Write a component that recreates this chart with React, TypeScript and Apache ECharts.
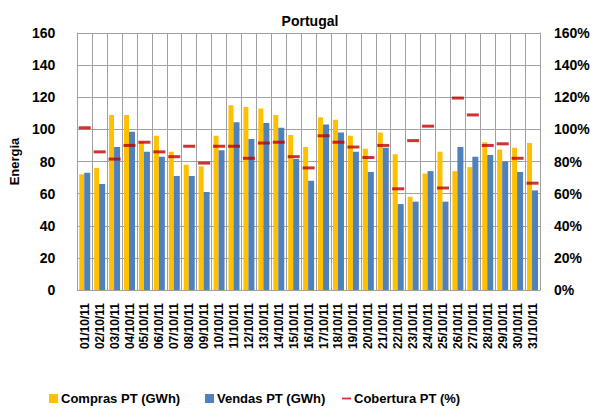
import { useEffect, useRef } from "react"
import * as echarts from "echarts"

const days = [
  "01/10/11", "02/10/11", "03/10/11", "04/10/11", "05/10/11", "06/10/11", "07/10/11", "08/10/11",
  "09/10/11", "10/10/11", "11/10/11", "12/10/11", "13/10/11", "14/10/11", "15/10/11", "16/10/11",
  "17/10/11", "18/10/11", "19/10/11", "20/10/11", "21/10/11", "22/10/11", "23/10/11", "24/10/11",
  "25/10/11", "26/10/11", "27/10/11", "28/10/11", "29/10/11", "30/10/11", "31/10/11",
]

// Compras PT (GWh)
const compras = [
  72, 76, 109, 109, 92, 96, 86, 78, 77, 96, 115, 114, 113, 109, 96.5, 89,
  107.5, 106, 96, 88, 98, 84.5, 58, 72.5, 86, 74, 76.5, 92, 87.5, 88.5, 91.5,
]

// Vendas PT (GWh)
const vendas = [
  73, 66, 89, 98.5, 86, 83, 71, 71, 61, 87, 104.5, 94, 104, 101, 81.5, 68,
  103, 98, 86, 73.5, 88.5, 53.5, 55, 74, 55, 89, 83, 84, 80, 73.5, 62,
]

// Cobertura PT (%)
const cobertura = [
  101, 86, 81.5, 90, 92, 86, 83, 89.5, 79, 89.5, 89.5, 82, 91.5, 92, 83, 76,
  96, 92, 89, 82.5, 90, 63, 93, 102, 63.5, 119.5, 109, 90, 91, 82, 66.5,
]

const leftTicks = [0, 20, 40, 60, 80, 100, 120, 140, 160]

const font = "'Liberation Sans', Arial, sans-serif"
const gridColor = "#a0a0a0"

const legendText = { fontFamily: font, fontSize: 13, fontWeight: "bold", color: "#000", padding: [0, 0, 0, -2] }

function legendAt(left: number, name: string, icon: string) {
  return {
    bottom: 3,
    padding: 0,
    left,
    itemWidth: 9,
    itemHeight: 9,
    textStyle: legendText,
    data: [{ name, icon }],
  }
}

export default function App() {
  const chartRef = useRef<HTMLDivElement>(null)

  useEffect(() => {
    document.body.style.margin = "0"
    if (!chartRef.current) return
    const chart = echarts.init(chartRef.current, null, { renderer: "svg" })

    chart.setOption({
      animation: false,
      backgroundColor: "#ffffff",
      textStyle: { fontFamily: font },
      title: {
        text: "Portugal",
        left: 305,
        textAlign: "center",
        top: 9,
        textStyle: { fontFamily: font, fontSize: 14, fontWeight: "bold", color: "#000" },
      },
      grid: { left: 67, right: 64, top: 33, bottom: 118 },
      legend: [
        legendAt(49, "Compras PT (GWh)", "rect"),
        legendAt(205, "Vendas PT (GWh)", "rect"),
        legendAt(342, "Cobertura PT (%)", "path://M0,4 L10,4 L10,6 L0,6 Z"),
      ],
      xAxis: {
        type: "category",
        data: days,
        axisLine: { lineStyle: { color: gridColor } },
        axisTick: { show: false },
        splitLine: { show: true, interval: 0, lineStyle: { color: gridColor, width: 1 } },
        axisLabel: {
          interval: 0,
          rotate: 90,
          margin: 13,
          fontFamily: font,
          fontSize: 12,
          fontWeight: "bold",
          color: "#000",
        },
      },
      yAxis: [
        {
          type: "value",
          min: leftTicks[0],
          max: leftTicks[leftTicks.length - 1],
          interval: 20,
          name: "Energia",
          nameLocation: "middle",
          nameRotate: 90,
          nameGap: 41,
          nameTextStyle: { fontFamily: font, fontSize: 13, fontWeight: "bold", color: "#000" },
          axisLine: { show: true, lineStyle: { color: gridColor } },
          splitLine: { lineStyle: { color: gridColor, width: 1 } },
          axisLabel: { fontFamily: font, fontSize: 14, fontWeight: "bold", color: "#000", margin: 22 },
        },
        {
          type: "value",
          min: 0,
          max: 160,
          interval: 20,
          axisLine: { show: true, lineStyle: { color: gridColor } },
          splitLine: { show: false },
          axisLabel: {
            formatter: "{value}%",
            fontFamily: font,
            fontSize: 14,
            fontWeight: "bold",
            color: "#000",
            margin: 14,
          },
        },
      ],
      series: [
        {
          name: "Compras PT (GWh)",
          type: "bar",
          data: compras,
          barWidth: 5,
          barGap: "0%",
          itemStyle: { color: "#FFC000" },
        },
        {
          name: "Vendas PT (GWh)",
          type: "bar",
          data: vendas,
          barWidth: 6,
          itemStyle: { color: "#4F81BD" },
        },
        {
          name: "Cobertura PT (%)",
          type: "scatter",
          yAxisIndex: 1,
          data: cobertura,
          symbol: "rect",
          symbolSize: [12, 3],
          itemStyle: { color: "#C00000" },
          z: 5,
        },
      ],
    })

    return () => {
      chart.dispose()
    }
  }, [])

  return <div ref={chartRef} style={{ width: 604, height: 408 }} />
}
